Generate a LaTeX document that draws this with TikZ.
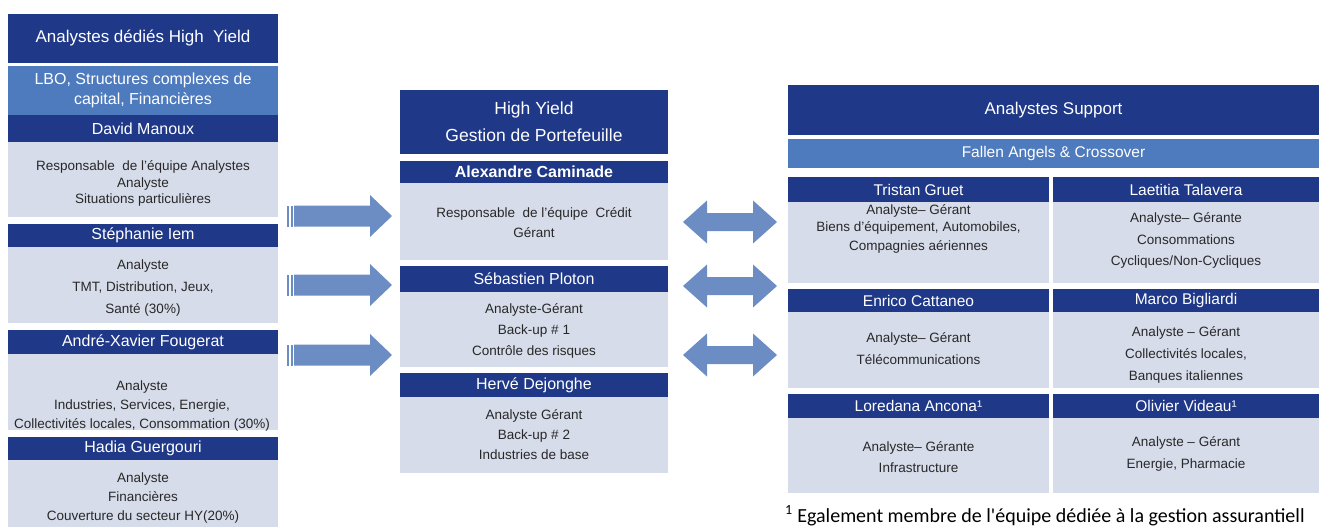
\documentclass[tikz,border=0pt]{standalone}
\usepackage{fontspec}
\setmainfont{Liberation Sans}
\newfontfamily\fnfont{Carlito}
\definecolor{navy}{RGB}{31,56,136}
\definecolor{bandc}{RGB}{78,122,190}
\definecolor{bodyc}{RGB}{214,220,234}
\definecolor{arrowc}{RGB}{108,140,196}
\definecolor{txtc}{RGB}{40,40,40}
\begin{document}
\begin{tikzpicture}[x=1pt,y=-1pt,
  boxsize/.style 2 args={minimum width=#1pt,minimum height=#2pt},
  hdr/.style={fill=navy,text=white,inner sep=0pt,outer sep=0pt,anchor=north west,font=\fontsize{16}{19}\selectfont},
  hdrr/.style={hdr,font=\fontsize{15.5}{19}\selectfont},
  ttl/.style={hdr,align=center,font=\fontsize{17}{20}\selectfont},
  band/.style={fill=bandc,text=white,inner sep=0pt,outer sep=0pt,anchor=north west,align=center},
  bodybox/.style={fill=bodyc,inner sep=0pt,outer sep=0pt,anchor=north west},
  bt/.style={text=txtc,align=center,inner sep=0pt,font=\fontsize{13.5}{#1}\selectfont},
  rarr/.pic={
    \fill[arrowc] (0,-10.5) rectangle (2,10.5);
    \fill[arrowc] (4,-10.5) rectangle (6,10.5);
    \fill[arrowc] (7,-10.5) -- (83,-10.5) -- (83,-21) -- (105,0) -- (83,21) -- (83,10.5) -- (7,10.5) -- cycle;
  },
  darr/.pic={
    \fill[arrowc] (0,0) -- (24,-21.5) -- (24,-9) -- (70,-9) -- (70,-21.5) -- (94,0)
      -- (70,21.5) -- (70,9) -- (24,9) -- (24,21.5) -- cycle;
  }
]
\useasboundingbox (0,0) rectangle (1319,527);
\clip (0,0) rectangle (1319,527);

% ---------------- left column ----------------
\node[ttl,boxsize={270}{49}] (lt) at (8,14) {Analystes dédiés High\ \ Yield};
\node[band,boxsize={270}{49},font=\fontsize{16}{20}\selectfont] (lb) at (8,66) {LBO, Structures complexes de\\capital, Financières};
\node[hdr,boxsize={270}{27}] (dmh) at (8,115) {David Manoux};
\node[bodybox,boxsize={270}{75}] (dmb) at (8,142) {};
\node[bt=16.5] (dmt) at (143,183.5) {Responsable\ \ de l'équipe Analystes\\Analyste\\Situations particulières};

\node[hdr,boxsize={270}{23}] (sih) at (8,224) {Stéphanie Iem};
\node[bodybox,boxsize={270}{76}] (sib) at (8,247) {};
\node[bt=22] (sit) at (143,288) {Analyste\\TMT, Distribution, Jeux,\\Santé (30\%)};

\node[hdr,boxsize={270}{24}] (axh) at (8,330) {André-Xavier Fougerat};
\node[bodybox,boxsize={270}{76}] (axb) at (8,354) {};
\node[bt=19] (axt) at (142,406) {Analyste\\Industries, Services, Energie,\\Collectivités locales, Consommation (30\%)};

\node[hdr,boxsize={270}{23}] (hgh) at (8,437) {Hadia Guergouri};
\node[bodybox,boxsize={270}{70}] (hgb) at (8,460) {};
\node[bt=19] (hgt) at (143,498) {Analyste\\Financières\\Couverture du secteur HY(20\%)};

% ---------------- middle column ----------------
\node[ttl,boxsize={268}{64},font=\fontsize{17.5}{27}\selectfont] (mt) at (400,90) {High Yield\\Gestion de Portefeuille};
\node[hdr,boxsize={268}{22},font=\bfseries\fontsize{16}{19}\selectfont] (ach) at (400,161) {Alexandre Caminade};
\node[bodybox,boxsize={268}{77}] (acb) at (400,183) {};
\node[bt=20] (act) at (534,223) {Responsable\ \ de l'équipe\ \ Crédit\\Gérant};

\node[hdr,boxsize={268}{26}] (sph) at (400,266) {Sébastien Ploton};
\node[bodybox,boxsize={268}{75}] (spb) at (400,292) {};
\node[bt=21] (spt) at (534,331) {Analyste-Gérant\\Back-up \# 1\\Contrôle des risques};

\node[hdr,boxsize={268}{24}] (hdh) at (400,373) {Hervé Dejonghe};
\node[bodybox,boxsize={268}{76}] (hdb) at (400,397) {};
\node[bt=20] (hdt) at (534,435) {Analyste Gérant\\Back-up \# 2\\Industries de base};

% ---------------- right column ----------------
\node[ttl,boxsize={531}{50}] (rt) at (788,85) {Analystes Support};
\node[band,boxsize={531}{29},font=\fontsize{15.5}{19}\selectfont] (rb) at (788,139) {Fallen Angels \& Crossover};

\node[hdrr,boxsize={261}{25}] (tgh) at (788,177) {Tristan Gruet};
\node[bodybox,boxsize={261}{81}] (tgb) at (788,202) {};
\node[bt=17] (tgt) at (918.5,229) {Analyste– Gérant\\Biens d'équipement, Automobiles,\\[2pt]Compagnies aériennes};

\node[hdrr,boxsize={266}{25}] (lth) at (1053,177) {Laetitia Talavera};
\node[bodybox,boxsize={266}{81}] (ltb) at (1053,202) {};
\node[bt=21.5] (ltt) at (1186,240.5) {Analyste– Gérante\\Consommations\\Cycliques/Non-Cycliques};

\node[hdrr,boxsize={261}{23}] (ech) at (788,289) {Enrico Cattaneo};
\node[bodybox,boxsize={261}{76}] (ecb) at (788,312) {};
\node[bt=22] (ect) at (918.5,349) {Analyste– Gérant\\Télécommunications};

\node[hdrr,boxsize={266}{23}] (mbh) at (1053,289) {Marco Bigliardi};
\node[bodybox,boxsize={266}{76}] (mbb) at (1053,312) {};
\node[bt=22] (mbt) at (1186,355) {Analyste – Gérant\\Collectivités locales,\\Banques italiennes};

\node[hdrr,boxsize={261}{24}] (lah) at (788,394) {Loredana Ancona¹};
\node[bodybox,boxsize={261}{75}] (lab) at (788,418) {};
\node[bt=21] (lat) at (918.5,457.5) {Analyste– Gérante\\Infrastructure};

\node[hdrr,boxsize={266}{24}] (ovh) at (1053,394) {Olivier Videau¹};
\node[bodybox,boxsize={266}{75}] (ovb) at (1053,418) {};
\node[bt=22] (ovt) at (1186,454) {Analyste – Gérant\\Energie, Pharmacie};

% ---------------- block arrows ----------------
\pic at (287,216) {rarr};
\pic at (287,285) {rarr};
\pic at (287,355) {rarr};
\pic at (683,222) {darr};
\pic at (683,286) {darr};
\pic at (683,355) {darr};

% ---------------- footnote ----------------
\node[anchor=base west,inner sep=0pt,text=black,font=\fnfont\fontsize{20}{24}\selectfont] (fn) at (785,522)
  {\textsuperscript{1} Egalement\ membre\ de\ l'équipe\ dédiée\ à\ la\ gestion\ assurantiell};
\end{tikzpicture}
\end{document}
